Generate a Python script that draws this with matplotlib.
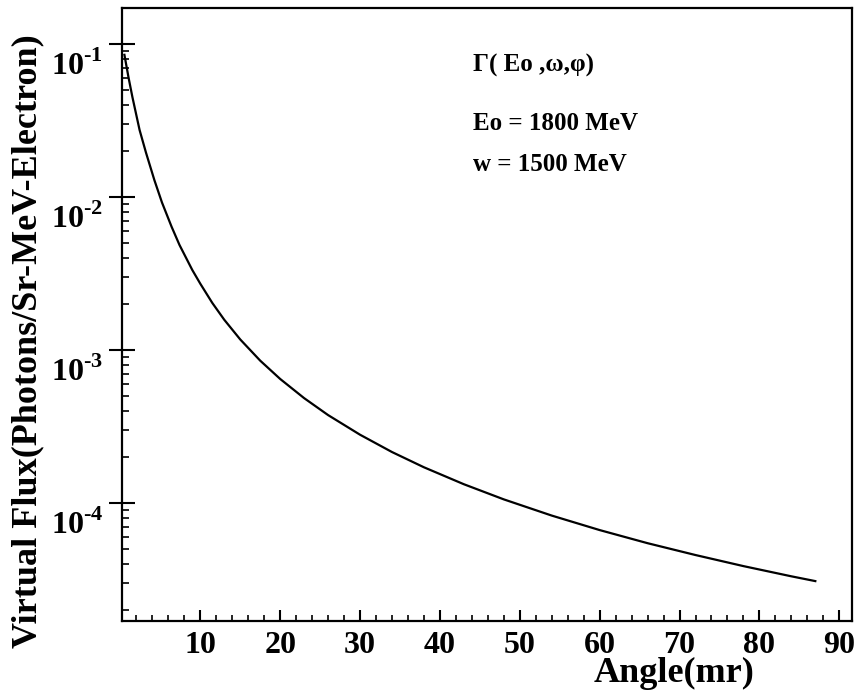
import matplotlib
matplotlib.use('Agg')
import matplotlib.pyplot as plt
from matplotlib.ticker import LogLocator, MultipleLocator, NullFormatter, FixedLocator
from matplotlib.transforms import ScaledTranslation

plt.rcParams['font.family'] = ['Liberation Serif', 'DejaVu Serif']
plt.rcParams['font.weight'] = 'bold'
plt.rcParams['mathtext.fontset'] = 'custom'
plt.rcParams['mathtext.rm'] = 'Liberation Serif:bold'
plt.rcParams['mathtext.bf'] = 'Liberation Serif:bold'

# curve (angle in mr, flux per sr-MeV-electron)
angle = [0.5, 1.0, 1.5, 2.4, 3.2, 4.25, 5.2, 6.4, 7.4, 9.0, 10.0, 11.5,
         13, 15, 17.5, 20, 23, 26, 30, 34, 38, 43, 48, 54, 60, 66, 72,
         78, 84, 87]
flux = [0.085, 0.061, 0.045, 0.0274, 0.0195, 0.0129, 0.00921, 0.0064,
        0.00485, 0.00333, 0.00271, 0.00203, 0.001575, 0.001171, 8.51e-4,
        6.46e-4, 4.84e-4, 3.75e-4, 2.79e-4, 2.15e-4, 1.709e-4, 1.324e-4,
        1.054e-4, 8.26e-5, 6.64e-5, 5.45e-5, 4.56e-5, 3.86e-5, 3.31e-5,
        3.08e-5]

ytick_vals = [1e-4, 1e-3, 1e-2, 1e-1]
ytick_text = [r'$10^{\text{-}4}$', r'$10^{\text{-}3}$', r'$10^{\text{-}2}$',
              r'$10^{\text{-}1}$']
xtick_vals = [10, 20, 30, 40, 50, 60, 70, 80, 90]

notes = ['Γ( Eo ,ω,φ)', 'Eo = 1800 MeV', 'w = 1500 MeV']

fig = plt.figure(figsize=(8.66, 6.96), dpi=100)
ax = fig.add_axes([0.1409, 0.1078, 0.8430, 0.8807])

ax.plot(angle, flux, color='black', lw=1.6)
ax.set_yscale('log')
ax.set_xlim(0.2, 91.6)
ax.set_ylim(1.69e-5, 0.172)

ax.yaxis.set_major_locator(FixedLocator(ytick_vals))
ax.set_yticklabels(ytick_text)
ax.yaxis.set_minor_locator(LogLocator(base=10, subs=range(2, 10)))
ax.yaxis.set_minor_formatter(NullFormatter())
ax.xaxis.set_major_locator(FixedLocator(xtick_vals))
ax.xaxis.set_minor_locator(MultipleLocator(2))

ax.tick_params(axis='y', which='major', direction='inout', length=19, width=1.5,
               labelsize=23, pad=4)
ax.tick_params(axis='y', which='minor', direction='in', length=5, width=1.2)
ax.tick_params(axis='x', which='major', direction='in', length=8, width=1.5,
               labelsize=23, pad=7)
ax.tick_params(axis='x', which='minor', direction='in', length=4, width=1.2)

# push the y labels down so the "10" sits under the tick
shift = ScaledTranslation(0, -5 / 72, fig.dpi_scale_trans)
for t in ax.yaxis.get_major_ticks():
    t.label1.set_verticalalignment('top')
    t.label1.set_transform(t.label1.get_transform() + shift)

for s in ax.spines.values():
    s.set_linewidth(1.6)

ax.set_xlabel('Angle(mr)', fontsize=26, fontweight='bold', va='center')
ax.xaxis.set_label_coords(0.756, -0.086)
ax.set_ylabel('Virtual Flux(Photons/Sr-MeV-Electron)', fontsize=26,
              fontweight='bold', va='center')
ax.yaxis.set_label_coords(-0.129, 0.457)

ax.text(0.481, 0.907, notes[0], transform=ax.transAxes, fontsize=18,
        fontweight='bold', va='center')
ax.text(0.481, 0.812, notes[1], transform=ax.transAxes, fontsize=18,
        fontweight='bold', va='center')
ax.text(0.481, 0.744, notes[2], transform=ax.transAxes, fontsize=18,
        fontweight='bold', va='center')

fig.savefig('out.png', dpi=100)
